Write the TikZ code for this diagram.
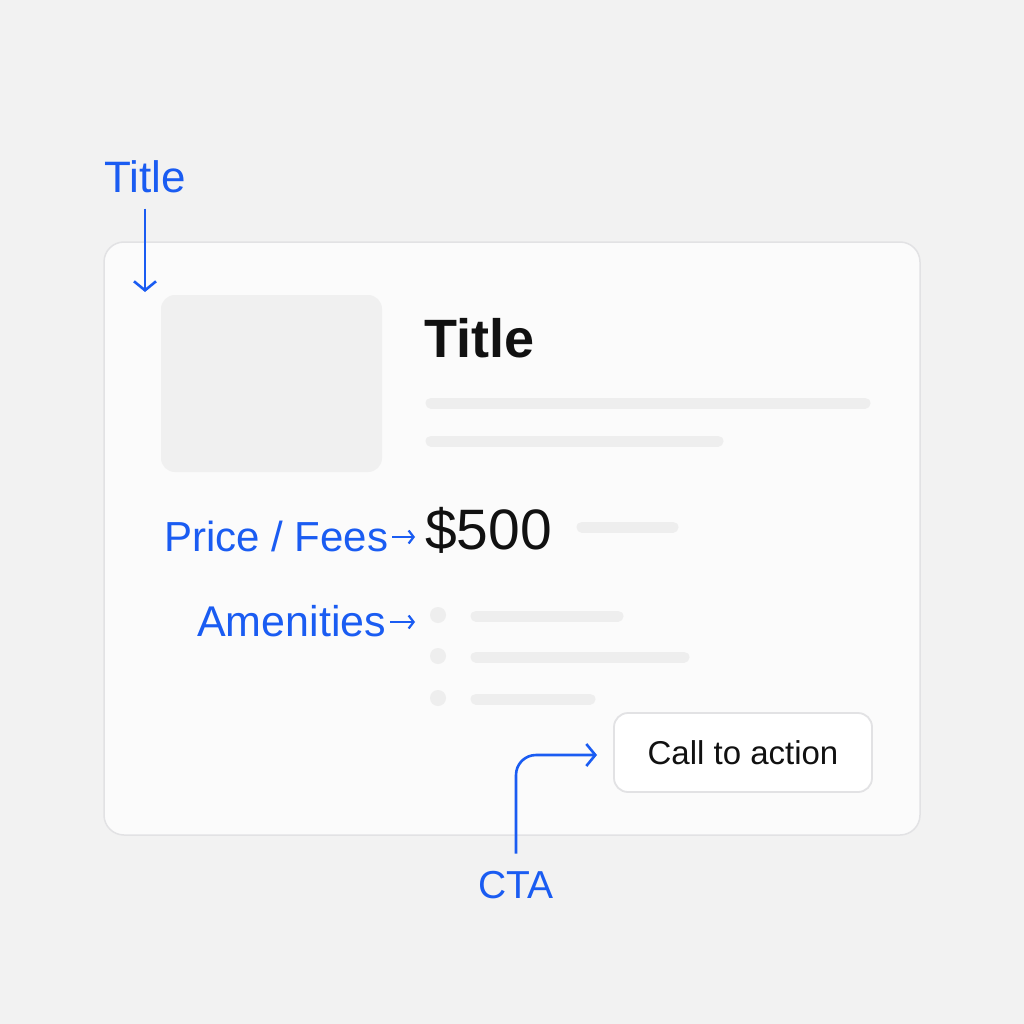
\documentclass[tikz,border=0pt]{standalone}
\usepackage{fontspec}
\setmainfont{Liberation Sans}
\usetikzlibrary{arrows.meta}
\definecolor{bg}{HTML}{F2F2F2}
\definecolor{card}{HTML}{FBFBFB}
\definecolor{cardedge}{HTML}{E2E2E4}
\definecolor{ph}{HTML}{F0F0F0}
\definecolor{bar}{HTML}{EEEEEE}
\definecolor{lblue}{HTML}{1A5CF2}
\definecolor{ink}{HTML}{111111}
\tikzset{
  barline/.style={line width=11pt, line cap=round, draw=bar},
  bluelabel/.style={text=lblue, inner sep=0pt, anchor=base west},
  blueconn/.style={draw=lblue, line width=2.6pt, -{Straight Barb[length=9pt,width=22pt,line width=2.6pt]}},
  smallconn/.style={draw=lblue, line width=2.2pt, -{Straight Barb[length=5pt,width=13pt,line width=2.2pt]}},
  bullet/.style={circle, fill=bar, minimum size=16pt, inner sep=0pt},
}
\begin{document}
\begin{tikzpicture}[x=1pt,y=-1pt]
\fill[bg] (0,0) rectangle (1024,1024);
\useasboundingbox (0,0) rectangle (1024,1024);
% card
\draw[fill=card, draw=cardedge, line width=1.5pt, rounded corners=20pt] (104,242) rectangle (920,835);
% image placeholder
\fill[ph, rounded corners=14pt] (161,295) rectangle (382,472);
% title
\node[anchor=base west, inner sep=0pt, text=ink, font=\fontsize{54}{60}\selectfont\bfseries] (title) at (424,357) {Title};
\draw[barline] (431,403) -- (865,403);
\draw[barline] (431,441) -- (718,441);
% price
\node[anchor=base west, inner sep=0pt, text=ink, font=\fontsize{57}{64}\selectfont] (price) at (425,549) {\$500};
\draw[barline] (582,527) -- (673,527);
% amenities
\node[bullet] (b1) at (438,615) {};
\node[bullet] (b2) at (438,656) {};
\node[bullet] (b3) at (438,698) {};
\draw[barline] (476,616) -- (618,616);
\draw[barline] (476,657) -- (684,657);
\draw[barline] (476,699) -- (590,699);
% button
\node[draw=cardedge, fill=white, line width=1.8pt, rounded corners=14pt, minimum width=258pt, minimum height=79pt, text=ink, font=\fontsize{33}{38}\selectfont] (btn) at (743,752.5) {Call to action};
% blue labels
\node[bluelabel, font=\fontsize{44}{50}\selectfont] (tlabel) at (104,193) {Title};
\coordinate (tend) at (145,292);
\draw[blueconn] (tlabel.south -| tend) ++(0,15) -- (tend);
\node[bluelabel, font=\fontsize{42}{48}\selectfont] (plabel) at (164,551) {Price / Fees};
\draw[smallconn] ([xshift=4pt,yshift=14pt]plabel.base east) -- ([xshift=-10pt,yshift=14pt]plabel.base east -| price.west);
\node[bluelabel, font=\fontsize{43}{48}\selectfont] (alabel) at (197,636) {Amenities};
\draw[smallconn] ([xshift=4pt,yshift=14pt]alabel.base east) -- ([xshift=-10pt,yshift=14pt]alabel.base east -| price.west);
\node[text=lblue, inner sep=0pt, anchor=base, font=\fontsize{39}{46}\selectfont] (cta) at (516,898) {CTA};
\coordinate (ctaend) at (597,755);
\draw[blueconn, rounded corners=20pt] (cta.north) ++(0,-17) |- (ctaend);
\end{tikzpicture}
\end{document}
